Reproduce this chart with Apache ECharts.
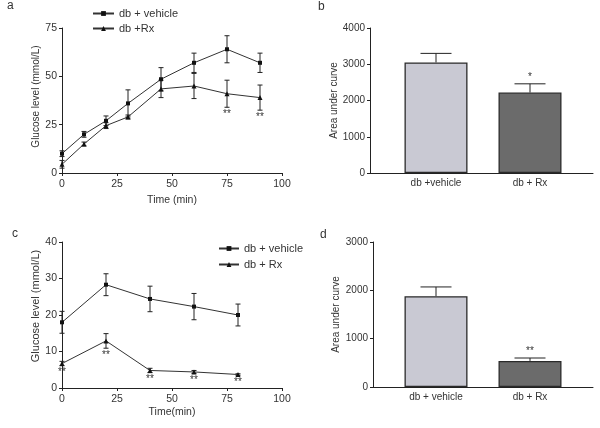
<!DOCTYPE html>
<html>
    <head>
        <meta charset="utf-8" />
        <script src="https://cdn.jsdelivr.net/npm/echarts@6/dist/echarts.min.js"></script>
    </head>
    <body style="margin: 0">
        <style>
            html,
            body,
            #main {
                width: 600px;
                height: 428px;
                background: #fff;
            }
        </style>
        <div id="main"></div>
        <script>
            // panel a: glucose tolerance, time course
            var timeA = [0, 10, 20, 30, 45, 60, 75, 90];
            var vehicleA = [10, 20, 27, 36, 48.5, 57, 64, 57];
            var vehicleErrA = [1.5, 1.5, 2.5, 7, 6, 5, 7, 5];
            var rxA = [4.5, 15, 24.5, 29, 43.5, 45, 41, 39];
            var rxErrA = [2, 1, 1.5, 1, 4.5, 6.5, 7, 6.5];
            var sigA = ["", "", "", "", "", "", "**", "**"];

            // panel b: area under curve
            var groupsB = ["db +vehicle", "db + Rx"];
            var aucB = [3050, 2220];
            var aucErrB = [250, 240];
            var sigB = ["", "*"];

            // panel c: second time course
            var timeC = [0, 20, 40, 60, 80];
            var vehicleC = [18, 28.3, 24.4, 22.3, 20];
            var vehicleErrC = [3, 3, 3.5, 3.6, 3];
            var rxC = [6.7, 12.9, 4.8, 4.4, 3.7];
            var rxErrC = [0.6, 2, 0.6, 0.4, 0.2];
            var sigC = ["**", "**", "**", "**", "**"];

            // panel d: area under curve
            var groupsD = ["db + vehicle", "db + Rx"];
            var aucD = [1880, 540];
            var aucErrD = [190, 60];
            var sigD = ["", "**"];

            var FONT = "Liberation Sans, Arial, sans-serif";
            var INK = "#222";
            var TEXT = "#333";
            var barColors = ["#c9c9d3", "#6b6b6b"];

            var chart = echarts.init(document.getElementById("main"));

            function errorBars(xi, yi, xs, ys, errs, opts) {
                return {
                    type: "custom",
                    xAxisIndex: xi,
                    yAxisIndex: yi,
                    silent: true,
                    z: 3,
                    data: ys.map(function (y, i) {
                        return [xs[i], y, errs[i]];
                    }),
                    encode: { x: 0, y: 1 },
                    renderItem: function (params, api) {
                        var i = params.dataIndex;
                        var x = api.value(0);
                        var y = api.value(1);
                        var e = api.value(2);
                        var top = api.coord([x, y + e]);
                        var bot = api.coord([x, opts.up ? y : y - e]);
                        var hw = opts.cap / 2;
                        var st = { stroke: INK, lineWidth: 1 };
                        var kids = [
                            { type: "line", shape: { x1: top[0], y1: top[1], x2: bot[0], y2: bot[1] }, style: st },
                            { type: "line", shape: { x1: top[0] - hw, y1: top[1], x2: top[0] + hw, y2: top[1] }, style: st },
                        ];
                        if (!opts.up) {
                            kids.push({ type: "line", shape: { x1: bot[0] - hw, y1: bot[1], x2: bot[0] + hw, y2: bot[1] }, style: st });
                        }
                        var s = opts.sig && opts.sig[i];
                        if (s) {
                            kids.push({
                                type: "text",
                                x: top[0],
                                y: opts.up ? top[1] - 2 : bot[1] + 2,
                                style: {
                                    text: s,
                                    fontSize: 10,
                                    fontFamily: FONT,
                                    fill: TEXT,
                                    align: "center",
                                    verticalAlign: opts.up ? "bottom" : "top",
                                },
                            });
                        }
                        return { type: "group", children: kids };
                    },
                };
            }

            function lineSeries(name, xi, yi, xs, ys, symbol, size) {
                return {
                    name: name,
                    type: "line",
                    xAxisIndex: xi,
                    yAxisIndex: yi,
                    data: xs.map(function (x, i) {
                        return [x, ys[i]];
                    }),
                    symbol: symbol,
                    symbolSize: size,
                    lineStyle: { color: "#333", width: 1 },
                    itemStyle: { color: "#111" },
                    z: 4,
                };
            }

            function barSeries(xi, yi, values) {
                return {
                    type: "bar", xAxisIndex: xi, yAxisIndex: yi, barWidth: 63,
                    data: values.map(function (v, i) {
                        return {
                            value: v,
                            itemStyle: { color: barColors[i], borderColor: "#2a2a2a", borderWidth: 1.3 },
                        };
                    }),
                };
            }

            var axisLine = { lineStyle: { color: INK, width: 1 } };
            var axisTick = { show: true, length: 3, lineStyle: { color: INK } };
            function font(size) {
                return { color: TEXT, fontSize: size, fontFamily: FONT };
            }
            function plain(v) {
                return String(v);
            }

            function valueX(grid, name, gap) {
                return {
                    type: "value", gridIndex: grid, min: 0, max: 100, interval: 25,
                    name: name, nameLocation: "middle", nameGap: gap,
                    nameTextStyle: font(10.5),
                    axisLine: axisLine, axisTick: axisTick, splitLine: { show: false },
                    axisLabel: Object.assign({ margin: 6, formatter: plain }, font(10.5)),
                };
            }
            function frameX(grid) {
                return {
                    type: "value", gridIndex: grid, min: 0, max: 1,
                    axisLine: axisLine, axisTick: { show: false },
                    axisLabel: { show: false }, splitLine: { show: false },
                };
            }
            function catX(grid, cats) {
                return {
                    type: "category", gridIndex: grid, data: cats,
                    axisLine: { show: false }, axisTick: { show: false },
                    axisLabel: Object.assign({ margin: 5 }, font(10)),
                };
            }
            function valueY(grid, max, step, name, gap, size, nameSize, pad) {
                return {
                    type: "value", gridIndex: grid, min: 0, max: max, interval: step,
                    name: name, nameLocation: "middle", nameGap: gap, nameRotate: 90,
                    nameTextStyle: Object.assign({ padding: pad || 0 }, font(nameSize)),
                    axisLine: Object.assign({ show: true }, axisLine),
                    axisTick: axisTick, splitLine: { show: false },
                    axisLabel: Object.assign({ margin: 5, formatter: plain }, font(size)),
                };
            }
            function hiddenY(grid, max) {
                return { type: "value", gridIndex: grid, min: 0, max: max, show: false };
            }

            var letter = { fontSize: 12, fontWeight: "normal", color: TEXT, fontFamily: FONT };

            chart.setOption({
                backgroundColor: "#fff",
                animation: false,
                title: [
                    { text: "a", left: 7, top: 0, padding: 0, textStyle: letter },
                    { text: "b", left: 318, top: 1, padding: 0, textStyle: letter },
                    { text: "c", left: 12, top: 228, padding: 0, textStyle: letter },
                    { text: "d", left: 320, top: 229, padding: 0, textStyle: letter },
                ],
                legend: [
                    {
                        orient: "vertical", left: 87, top: 3, itemWidth: 21, itemHeight: 6, itemGap: 4,
                        data: ["db + vehicle", "db +Rx"],
                        textStyle: font(11),
                        selectedMode: false,
                    },
                    {
                        orient: "vertical", left: 213, top: 238, itemWidth: 20, itemHeight: 6, itemGap: 5,
                        data: ["db + vehicle", "db + Rx"],
                        textStyle: font(11),
                        selectedMode: false,
                    },
                ],
                grid: [
                    { left: 62, top: 28, width: 220, height: 145 },
                    { left: 370, top: 28, width: 223, height: 145 },
                    { left: 389, top: 28, width: 188, height: 145 },
                    { left: 62, top: 242, width: 220, height: 146 },
                    { left: 373, top: 242, width: 220, height: 145 },
                    { left: 389, top: 242, width: 188, height: 145 },
                ],
                xAxis: [
                    valueX(0, "Time (min)", 22),
                    frameX(1),
                    catX(2, groupsB),
                    valueX(3, "Time(min)", 19),
                    frameX(4),
                    catX(5, groupsD),
                ],
                yAxis: [
                    valueY(0, 75, 25, "Glucose level (mmol/L)", 21, 10.5, 10, [0, 0, 0, 8]),
                    valueY(1, 4000, 1000, "Area under curve", 31, 10, 10),
                    hiddenY(2, 4000),
                    valueY(3, 40, 10, "Glucose level (mmol/L)", 18, 10.5, 11, [0, 0, 0, 18]),
                    valueY(4, 3000, 1000, "Area under curve", 32, 10, 10),
                    hiddenY(5, 3000),
                ],
                series: [
                    lineSeries("db + vehicle", 0, 0, timeA, vehicleA, "rect", 4),
                    lineSeries("db +Rx", 0, 0, timeA, rxA, "triangle", 5),
                    errorBars(0, 0, timeA, vehicleA, vehicleErrA, { cap: 5 }),
                    errorBars(0, 0, timeA, rxA, rxErrA, { cap: 5, sig: sigA }),

                    barSeries(2, 2, aucB),
                    errorBars(2, 2, [0, 1], aucB, aucErrB, { cap: 31, up: true, sig: sigB }),

                    lineSeries("db + vehicle", 3, 3, timeC, vehicleC, "rect", 4),
                    lineSeries("db + Rx", 3, 3, timeC, rxC, "triangle", 5),
                    errorBars(3, 3, timeC, vehicleC, vehicleErrC, { cap: 5 }),
                    errorBars(3, 3, timeC, rxC, rxErrC, { cap: 5, sig: sigC }),

                    barSeries(5, 5, aucD),
                    errorBars(5, 5, [0, 1], aucD, aucErrD, { cap: 31, up: true, sig: sigD }),
                ],
            });
        </script>
    </body>
</html>
